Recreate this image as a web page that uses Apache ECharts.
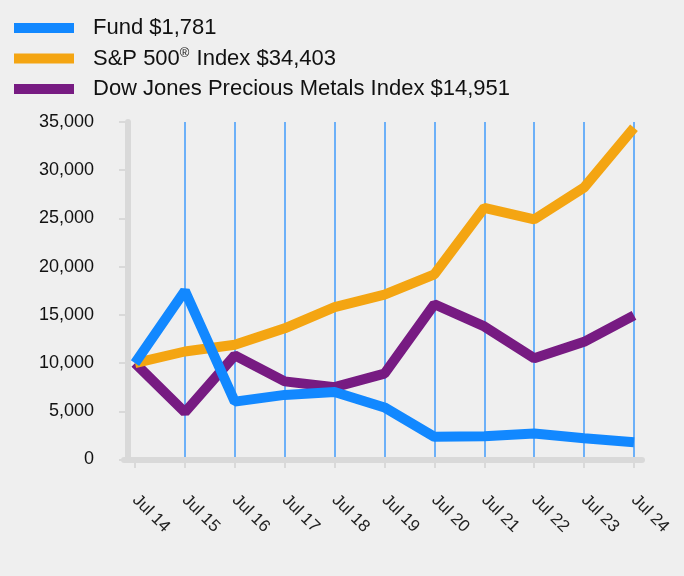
<!DOCTYPE html>
<html>
<head>
<meta charset="utf-8">
<script src="https://cdn.jsdelivr.net/npm/echarts@6/dist/echarts.min.js"></script>
<style>
html,body{margin:0;padding:0;background:#efefef;}
#chart{width:684px;height:576px;}
</style>
</head>
<body>
<div id="chart"></div>
<script>
const categories = ['Jul 14','Jul 15','Jul 16','Jul 17','Jul 18','Jul 19','Jul 20','Jul 21','Jul 22','Jul 23','Jul 24'];
const fundValues = [10000, 17500, 6000, 6700, 7000, 5400, 2350, 2400, 2700, 2200, 1781];
const sp500Values = [10000, 11200, 11900, 13600, 15800, 17100, 19200, 26100, 24900, 28200, 34403];
const djpmValues = [10000, 4900, 10800, 8100, 7500, 8900, 16100, 13800, 10500, 12200, 14951];
const seriesNames = ['Fund $1,781', 'S&P 500\u00AE Index $34,403', 'Dow Jones Precious Metals Index $14,951'];
const yTicks = {min: 0, max: 35000, interval: 5000};

const FONT = '"Liberation Sans", Arial, sans-serif';
const AXIS_GRAY = '#d9d9d9';
const colors = ['#1288ff', '#f4a512', '#771b82'];

const chart = echarts.init(document.getElementById('chart'), null, {renderer: 'canvas'});

function legend(i, top) {
  return {
    show: true,
    orient: 'vertical',
    left: 14,
    top: top,
    padding: 0,
    itemWidth: 60,
    itemHeight: 10,
    icon: 'rect',
    selectedMode: false,
    data: [{name: seriesNames[i], icon: 'rect', itemStyle: {color: colors[i]}}],
    formatter: function (name) {
      return name.split('\u00AE').map(s => '{t|' + s + '}').join('{sup|\u00AE}');
    },
    textStyle: {
      fontFamily: FONT, fontSize: 22, color: '#111', lineHeight: 24, padding: [0, 0, 0, 14],
      rich: {
        t: {fontFamily: FONT, fontSize: 22, color: '#111', lineHeight: 24},
        sup: {fontFamily: FONT, fontSize: 13, color: '#111', lineHeight: 24, verticalAlign: 'top', padding: [0, 1, 0, 0]}
      }
    }
  };
}

chart.setOption({
  backgroundColor: '#efefef',
  animation: false,
  legend: [legend(0, 16), legend(1, 46.5), legend(2, 77)],
  grid: [
    {left: 135, right: 50, top: 122, bottom: 116.5, containLabel: false},
    {left: 124, right: 42, top: 122, bottom: 116.5, containLabel: false}
  ],
  xAxis: [
    {
      type: 'category',
      gridIndex: 0,
      data: categories,
      boundaryGap: false,
      axisLine: {show: false},
      axisTick: {show: true, length: 8.5, lineStyle: {color: AXIS_GRAY, width: 2}},
      axisLabel: {rotate: -45, margin: 38, fontFamily: FONT, fontSize: 17, color: '#222'},
      splitLine: {show: true, showMinLine: false, lineStyle: {color: '#6cb0f8', width: 2}}
    },
    {
      type: 'value',
      gridIndex: 1,
      min: 0, max: 1,
      axisLine: {show: true, lineStyle: {color: AXIS_GRAY, width: 6}},
      axisTick: {show: false},
      axisLabel: {show: false},
      splitLine: {show: false}
    }
  ],
  yAxis: [
    {
      type: 'value',
      gridIndex: 0,
      min: yTicks.min, max: yTicks.max, interval: yTicks.interval,
      offset: 7,
      axisLine: {show: true, lineStyle: {color: AXIS_GRAY, width: 6}},
      axisTick: {show: true, length: 9, lineStyle: {color: AXIS_GRAY, width: 2}},
      axisLabel: {margin: 34, fontFamily: FONT, fontSize: 18, color: '#111',
        formatter: v => v.toLocaleString('en-US')},
      splitLine: {show: false}
    },
    {
      type: 'value',
      gridIndex: 1,
      min: 0, max: 1,
      show: false
    }
  ],
  series: [
    {name: seriesNames[2], type: 'line', data: djpmValues, symbol: 'none', z: 3,
      lineStyle: {color: colors[2], width: 10}, itemStyle: {color: colors[2]}},
    {name: seriesNames[1], type: 'line', data: sp500Values, symbol: 'none', z: 4,
      lineStyle: {color: colors[1], width: 10}, itemStyle: {color: colors[1]}},
    {name: seriesNames[0], type: 'line', data: fundValues, symbol: 'none', z: 5,
      lineStyle: {color: colors[0], width: 10}, itemStyle: {color: colors[0]}}
  ]
});
</script>
</body>
</html>
